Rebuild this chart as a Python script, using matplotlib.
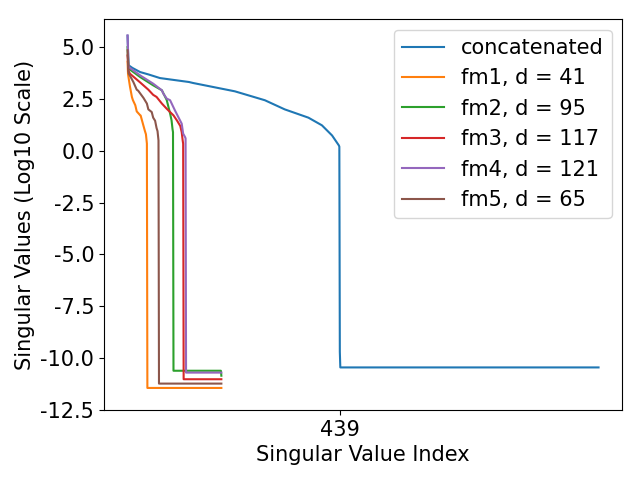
import matplotlib
matplotlib.use("Agg")
import matplotlib.pyplot as plt

plt.rcParams["axes.unicode_minus"] = False
plt.rcParams["font.size"] = 15

# Singular value index / log10 singular value
conc_idx = [0, 2, 10, 26, 44, 67, 127, 136, 222, 284, 325, 374, 402, 423, 437, 438, 439, 440, 974]
conc_val = [5.55, 4.13, 4.0, 3.8, 3.68, 3.51, 3.32, 3.27, 2.87, 2.44, 2.0, 1.6, 1.23, 0.74, 0.26, 0.2, -9.7, -10.45, -10.45]

fm1_idx = [0, 1, 5, 9, 11, 16, 19, 26, 27, 33, 36, 38, 40, 41, 194]
fm1_val = [4.3, 3.7, 3.1, 2.6, 2.45, 2.2, 1.9, 1.72, 1.71, 1.2, 0.95, 0.8, 0.35, -11.44, -11.44]

fm2_idx = [0, 2, 26, 53, 71, 81, 88, 91, 93, 94, 95, 193, 194]
fm2_val = [5.0, 3.97, 3.56, 3.16, 2.92, 2.45, 1.8, 1.47, 1.05, 0.9, -10.61, -10.61, -10.85]

fm3_idx = [0, 2, 5, 26, 43, 53, 60, 71, 81, 88, 95, 102, 109, 112, 114, 115, 116, 194]
fm3_val = [4.6, 3.85, 3.72, 3.3, 2.95, 2.7, 2.6, 2.28, 2.03, 1.87, 1.71, 1.47, 1.2, 0.9, 0.5, 0.34, -11.02, -11.02]

fm4_idx = [0, 2, 26, 53, 71, 74, 81, 88, 98, 105, 112, 115, 119, 120, 121, 194]
fm4_val = [5.57, 4.05, 3.64, 3.24, 2.92, 2.76, 2.52, 2.44, 1.95, 1.63, 1.31, 0.83, 0.66, 0.6, -10.7, -10.7]

fm5_idx = [0, 2, 12, 19, 22, 33, 40, 43, 50, 53, 57, 60, 62, 64, 65, 194]
fm5_val = [4.85, 3.75, 3.32, 2.95, 2.9, 2.55, 2.28, 2.0, 1.87, 1.6, 1.45, 1.1, 0.95, 0.5, -11.23, -11.23]

labels = ["concatenated", "fm1, d = 41", "fm2, d = 95", "fm3, d = 117", "fm4, d = 121", "fm5, d = 65"]
series = [(conc_idx, conc_val), (fm1_idx, fm1_val), (fm2_idx, fm2_val),
          (fm3_idx, fm3_val), (fm4_idx, fm4_val), (fm5_idx, fm5_val)]

fig, ax = plt.subplots(figsize=(6.4, 4.8), dpi=100)
for (x, y), lab in zip(series, labels):
    ax.plot(x, y, label=lab)

ax.set_ylim(-12.5, 6.35)
ax.set_xticks([439])
ax.set_xlabel("Singular Value Index")
ax.set_ylabel("Singular Values (Log10 Scale)")
ax.legend(loc="upper right")

plt.subplots_adjust(left=0.1625, right=0.972, bottom=0.146, top=0.96)
plt.savefig("out.png")
